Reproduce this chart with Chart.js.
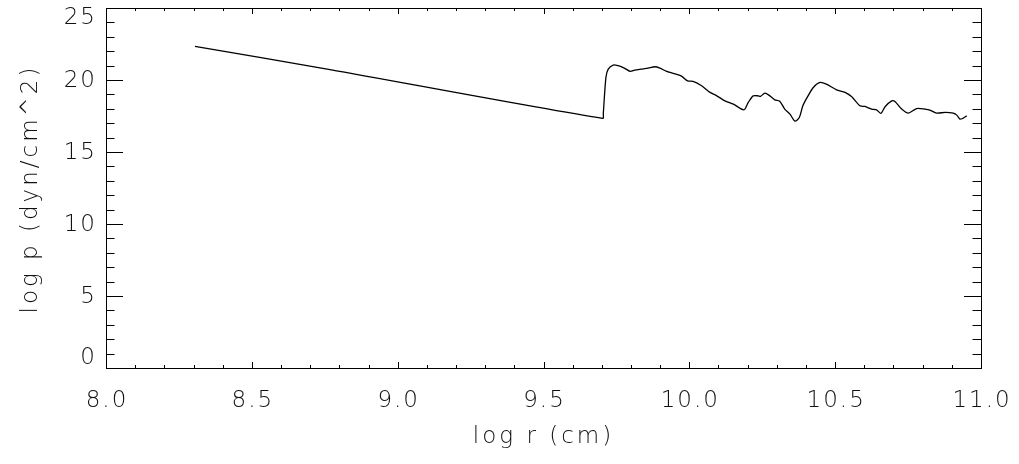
<!DOCTYPE html>
<html>
<head>
<meta charset="utf-8">
<script src="https://cdn.jsdelivr.net/npm/chart.js@4"></script>
<style>
  html, body { margin: 0; padding: 0; background: #fff; }
  #wrap { width: 1019px; height: 464px; }
</style>
</head>
<body>
<div id="wrap"><canvas id="c" width="1019" height="464"></canvas></div>
<script>
// ── Data ───────────────────────────────────────────────────────
const logR = [
  8.305, 8.768, 9.703, 9.705, 9.714, 9.722, 9.739, 9.756, 9.777, 9.797,
  9.813, 9.836, 9.859, 9.882, 9.899, 9.922, 9.945, 9.973, 9.994, 10.013,
  10.042, 10.071, 10.094, 10.122, 10.151, 10.187, 10.202, 10.219, 10.236, 10.244,
  10.259, 10.276, 10.293, 10.310, 10.327, 10.345, 10.362, 10.377, 10.389, 10.404,
  10.425, 10.448, 10.470, 10.505, 10.534, 10.557, 10.585, 10.602, 10.625, 10.642,
  10.657, 10.671, 10.694, 10.705, 10.728, 10.751, 10.779, 10.808, 10.825, 10.848,
  10.877, 10.905, 10.917, 10.928, 10.939, 10.951,
];
const logP = [
  22.34, 20.72, 17.33, 17.68, 20.18, 20.76, 21.04, 20.99, 20.83, 20.60,
  20.69, 20.76, 20.83, 20.92, 20.83, 20.60, 20.46, 20.27, 19.94, 19.90,
  19.60, 19.14, 18.90, 18.55, 18.32, 17.93, 18.44, 18.90, 18.90, 18.86,
  19.09, 18.90, 18.62, 18.53, 17.98, 17.63, 17.14, 17.40, 18.20, 18.79,
  19.48, 19.83, 19.71, 19.32, 19.14, 18.83, 18.21, 18.16, 17.98, 17.93,
  17.68, 18.14, 18.55, 18.51, 17.98, 17.70, 18.02, 17.98, 17.91, 17.70,
  17.75, 17.70, 17.56, 17.28, 17.35, 17.51,
];

const xTickLabels = ['8.0', '8.5', '9.0', '9.5', '10.0', '10.5', '11.0'];
const yTickLabels = ['0', '5', '10', '15', '20', '25'];

const FONT = '200 23px "DejaVu Sans"';
const INK = '#111';

// ── Axes plugin (IDL style box with inward ticks) ─────────────
const idlAxes = {
  id: 'idlAxes',
  afterDraw(chart) {
    const { ctx, chartArea: a, scales: { x, y } } = chart;
    ctx.save();
    ctx.strokeStyle = '#000';
    ctx.lineWidth = 1;
    ctx.strokeRect(Math.round(a.left) + 0.5, Math.round(a.top) + 0.5,
                   Math.round(a.right - a.left), Math.round(a.bottom - a.top));

    // x ticks every 0.1, major every 0.5
    ctx.beginPath();
    for (let i = 0; i <= 30; i++) {
      const px = Math.round(x.getPixelForValue(8 + i * 0.1)) + 0.5;
      const len = i % 5 === 0 ? 6 : 3;
      ctx.moveTo(px, a.bottom); ctx.lineTo(px, a.bottom - len);
      ctx.moveTo(px, a.top);    ctx.lineTo(px, a.top + len);
    }
    // y ticks every 1, major every 5
    for (let v = 0; v <= 25; v++) {
      const py = Math.round(y.getPixelForValue(v)) + 0.5;
      const len = v % 5 === 0 ? 17 : 8.5;
      ctx.moveTo(a.left, py);  ctx.lineTo(a.left + len, py);
      ctx.moveTo(a.right, py); ctx.lineTo(a.right - len, py);
    }
    ctx.stroke();

    // tick labels
    ctx.fillStyle = INK;
    ctx.font = FONT;
    ctx.letterSpacing = '2px';
    ctx.textAlign = 'center';
    ctx.textBaseline = 'middle';
    xTickLabels.forEach(t => {
      ctx.fillText(t, x.getPixelForValue(parseFloat(t)) + 1, a.bottom + 33);
    });
    ctx.textAlign = 'right';
    yTickLabels.forEach(t => {
      let py = y.getPixelForValue(parseFloat(t)) + 1;
      py = Math.min(Math.max(py, a.top + 10), a.bottom - 10);
      ctx.fillText(t, a.left - 9, py);
    });

    // axis titles
    ctx.letterSpacing = '3px';
    ctx.textAlign = 'center';
    ctx.fillText('log r (cm)', (a.left + a.right) / 2, a.bottom + 69);
    ctx.translate(31, 189);
    ctx.rotate(-Math.PI / 2);
    ctx.fillText('log p (dyn/cm^2)', 0, 0);
    ctx.restore();
  },
};

// ── Chart ──────────────────────────────────────────────────────
new Chart(document.getElementById('c'), {
  type: 'line',
  data: {
    datasets: [{
      data: logR.map((r, i) => ({ x: r, y: logP[i] })),
      borderColor: '#000',
      borderWidth: 1.3,
      pointRadius: 0,
      tension: 0.25,
      fill: false,
    }],
  },
  options: {
    responsive: false,
    animation: false,
    events: [],
    layout: { padding: { left: 106, right: 38, top: 8, bottom: 96 } },
    plugins: { legend: { display: false }, tooltip: { enabled: false } },
    scales: {
      x: { type: 'linear', min: 8, max: 11, display: false },
      y: { type: 'linear', min: 0, max: 25, display: false },
    },
  },
  plugins: [idlAxes],
});
</script>
</body>
</html>
